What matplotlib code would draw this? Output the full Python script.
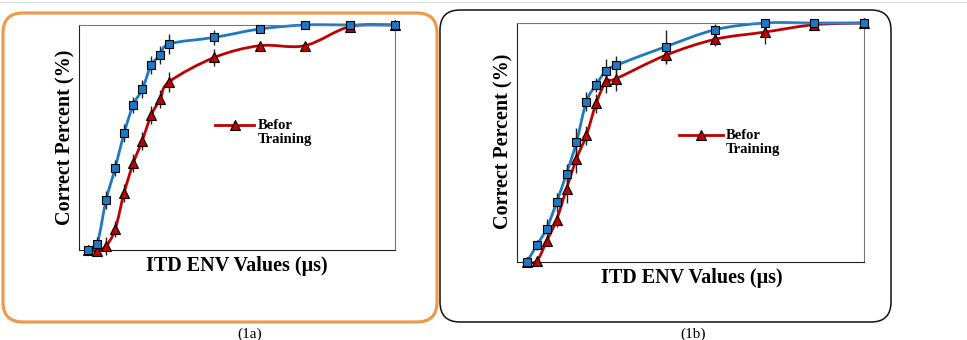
import matplotlib
matplotlib.use("Agg")
import matplotlib.pyplot as plt
import matplotlib.transforms as mtransforms
import numpy as np
from matplotlib.path import Path
from matplotlib.patches import PathPatch, FancyBboxPatch
from matplotlib.lines import Line2D

plt.rcParams['font.family'] = ['Liberation Serif', 'DejaVu Serif']

# ITD ENV values (no tick labels in the picture, only relative spacing)
itd = [0, 10, 20, 30, 40, 50, 60, 70, 80, 90, 140, 190, 240, 290, 340]

# panel (1a)
a_after = [0, 2.7, 22.2, 36.3, 52.0, 64.4, 71.4, 82.2, 86.5, 91.6, 94.5, 98.2, 100, 100, 100]
a_after_err = [1.5, 3, 4, 3.5, 4, 3.5, 4, 4, 4, 4.4, 3.3, 1.5, 1, 1, 1]
a_before = [0, -0.3, 1.8, 9.2, 25.5, 38.5, 48.6, 60.0, 67.1, 74.8, 85.6, 90.8, 90.8, 99.3, 100]
a_before_err = [1, 1.5, 4, 3.5, 4, 4, 4, 4, 4, 4.4, 3.7, 1.5, 1.5, 1.5, 1]

# panel (1b)
b_after = [0, 7.0, 14.0, 25.0, 37.0, 50.1, 67.1, 74.2, 80.1, 82.3, 90.1, 97.2, 100, 100, 100]
b_after_err = [1, 2, 4, 4, 4, 6, 4, 3, 5, 4, 7, 2.5, 1, 1, 1]
b_before = [0, 0.4, 8.8, 17.7, 30.7, 43.2, 53.0, 66.5, 75.6, 76.7, 86.5, 93.2, 96.2, 99.3, 100]
b_before_err = [1, 1, 2, 3, 6, 6, 4, 4, 5, 5, 3.5, 3, 5, 1, 1]

blue = '#1E78C2'
red = '#C00000'


def smooth_path(x, y):
    # Bezier path through the points (like spreadsheet "smoothed line")
    x = np.asarray(x, float)
    y = np.asarray(y, float)
    pts = np.column_stack([x, y])
    verts = [pts[0]]
    codes = [Path.MOVETO]
    n = len(pts)
    for i in range(n - 1):
        p0 = pts[i - 1] if i > 0 else pts[i]
        p1 = pts[i]
        p2 = pts[i + 1]
        p3 = pts[i + 2] if i + 2 < n else pts[i + 1]
        c1 = p1 + (p2 - p0) / 6.0
        c2 = p2 - (p3 - p1) / 6.0
        verts += [c1, c2, p2]
        codes += [Path.CURVE4] * 3
    return Path(verts, codes)


def draw_series(ax, x, y, err, color, marker, ms):
    ax.add_patch(PathPatch(smooth_path(x, y), fill=False, edgecolor=color,
                           lw=2.0, zorder=2, clip_on=False))
    ax.errorbar(x, y, yerr=err, fmt='none', ecolor='#222222', elinewidth=1.0,
                capsize=0, zorder=3, clip_on=False)
    ax.plot(x, y, ls='none', marker=marker, ms=ms, mfc=color, mec='black',
            mew=0.8, zorder=4, clip_on=False)


def panel(rect, after, after_err, before, before_err, xlab_pos, ylab_pos, leg_pos):
    ax = fig.add_axes(rect)
    draw_series(ax, itd, before, before_err, red, '^', 7.5)
    draw_series(ax, itd, after, after_err, blue, 's', 6)
    ax.set_xlim(-10, 340)
    ax.set_ylim(0, 100)
    ax.set_xticks([])
    ax.set_yticks([])
    for s in ['left', 'bottom']:
        ax.spines[s].set_color('#222222')
    for s in ['top', 'right']:
        ax.spines[s].set_color('#777777')
    ax.set_xlabel('ITD ENV Values (μs)', fontsize=14.5, fontweight='bold', va='center')
    ax.xaxis.set_label_coords(*xlab_pos)
    ax.set_ylabel('Correct Percent (%)', fontsize=14.5, fontweight='bold', va='center')
    ax.yaxis.set_label_coords(*ylab_pos)
    # legend key
    lx, ly = leg_pos
    ax.plot([lx, lx + 0.125], [ly, ly], color=red, lw=2.0, transform=ax.transAxes,
            clip_on=False)
    ax.plot([lx + 0.0625], [ly], marker='^', ms=7.5, mfc=red, mec='black', mew=0.8,
            transform=ax.transAxes, clip_on=False)
    tr = mtransforms.offset_copy(ax.transAxes, fig=fig, x=0, y=-8, units='dots')
    ax.text(lx + 0.135, ly, 'Befor\nTraining', transform=tr,
            fontsize=10.5, fontweight='bold', va='center', ha='left',
            linespacing=1.1)
    return ax


fig = plt.figure(figsize=(9.67, 3.40), dpi=100)

# rounded frames
fig.add_artist(FancyBboxPatch((0.03, 0.18), 4.34, 3.09,
                              boxstyle='round,pad=0,rounding_size=0.2',
                              transform=fig.dpi_scale_trans, fill=False,
                              edgecolor='#EE9A4D', lw=2.3))
fig.add_artist(FancyBboxPatch((4.40, 0.18), 4.51, 3.12,
                              boxstyle='round,pad=0,rounding_size=0.2',
                              transform=fig.dpi_scale_trans, fill=False,
                              edgecolor='#111111', lw=1.1))
fig.add_artist(Line2D([0, 1], [0.994, 0.994], color='#DDDDDD', lw=0.8,
                      transform=fig.transFigure))

panel([0.0817, 0.2647, 0.3268, 0.6618], a_after, a_after_err, a_before, a_before_err,
      (0.5, -0.071), (-0.044, 0.502), (0.43, 0.556))
panel([0.5346, 0.2294, 0.3588, 0.7029], b_after, b_after_err, b_before, b_before_err,
      (0.504, -0.067), (-0.040, 0.504), (0.468, 0.533))

fig.text(250 / 967, 0.016, '(1a)', ha='center', va='center', fontsize=11)
fig.text(693 / 967, 0.016, '(1b)', ha='center', va='center', fontsize=11)

fig.savefig('out.png', dpi=100)
